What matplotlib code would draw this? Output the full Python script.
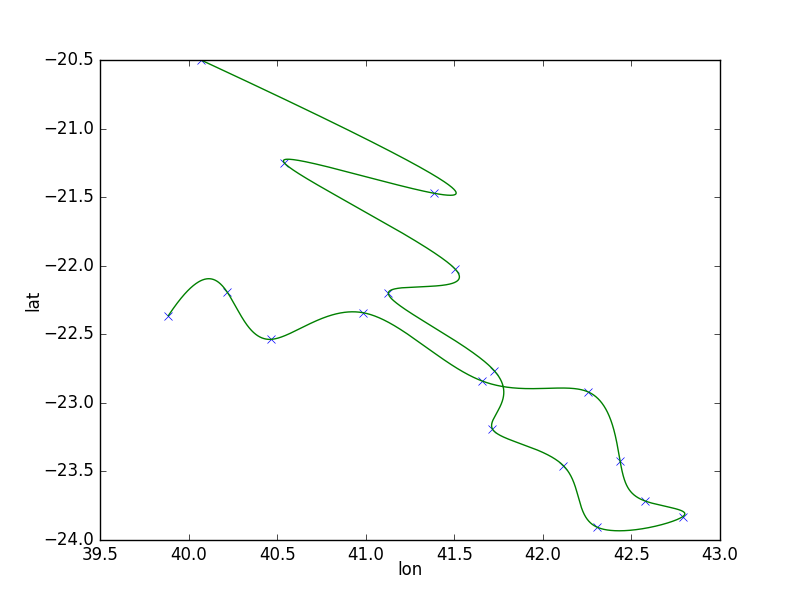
import numpy as np
import matplotlib
matplotlib.use("Agg")
import matplotlib.pyplot as plt

plt.style.use("classic")

lon = [40.07, 41.387, 40.54, 41.506, 41.128, 41.726, 41.715, 42.116, 42.307,
       42.789, 42.578, 42.436, 42.257, 41.658, 40.986, 40.465, 40.219, 39.886]
lat = [-20.50, -21.472, -21.249, -22.026, -22.197, -22.766, -23.19, -23.458, -23.907,
       -23.83, -23.716, -23.424, -22.921, -22.841, -22.343, -22.537, -22.194, -22.364]


def notaknot_spline(t, y, tt):
    t = np.asarray(t, float)
    y = np.asarray(y, float)
    n = len(t)
    m = n - 1
    A = np.zeros((4 * m, 4 * m))
    b = np.zeros(4 * m)
    r = 0
    h = np.diff(t)
    for i in range(m):
        A[r, 4 * i] = 1
        b[r] = y[i]
        r += 1
        A[r, 4 * i:4 * i + 4] = [1, h[i], h[i] ** 2, h[i] ** 3]
        b[r] = y[i + 1]
        r += 1
    for i in range(m - 1):
        A[r, 4 * i:4 * i + 4] = [0, 1, 2 * h[i], 3 * h[i] ** 2]
        A[r, 4 * (i + 1) + 1] = -1
        r += 1
        A[r, 4 * i:4 * i + 4] = [0, 0, 2, 6 * h[i]]
        A[r, 4 * (i + 1) + 2] = -2
        r += 1
    A[r, 3] = 1
    A[r, 7] = -1
    r += 1
    A[r, 4 * (m - 2) + 3] = 1
    A[r, 4 * (m - 1) + 3] = -1
    coef = np.linalg.solve(A, b).reshape(m, 4)
    idx = np.clip(np.searchsorted(t, tt, side="right") - 1, 0, m - 1)
    d = tt - t[idx]
    c = coef[idx]
    return c[:, 0] + c[:, 1] * d + c[:, 2] * d ** 2 + c[:, 3] * d ** 3


x = np.asarray(lon)
y = np.asarray(lat)
u = np.arange(len(x), dtype=float)
uu = np.linspace(0, u[-1], 3000)
xs = notaknot_spline(u, x, uu)
ys = notaknot_spline(u, y, uu)

fig = plt.figure(figsize=(8, 6), dpi=100, facecolor="white")
ax = fig.add_axes([0.125, 0.1, 0.775, 0.8])
ax.plot(x, y, "bx", markeredgewidth=0.5, markersize=6)
ax.plot(xs, ys, "g-", linewidth=1.0)
ax.set_xlim(39.5, 43.0)
ax.set_ylim(-24.0, -20.5)
ax.set_xlabel("lon", labelpad=-2)
ax.set_ylabel("lat", labelpad=1)
fig.savefig("out.png", dpi=100, facecolor="white")
